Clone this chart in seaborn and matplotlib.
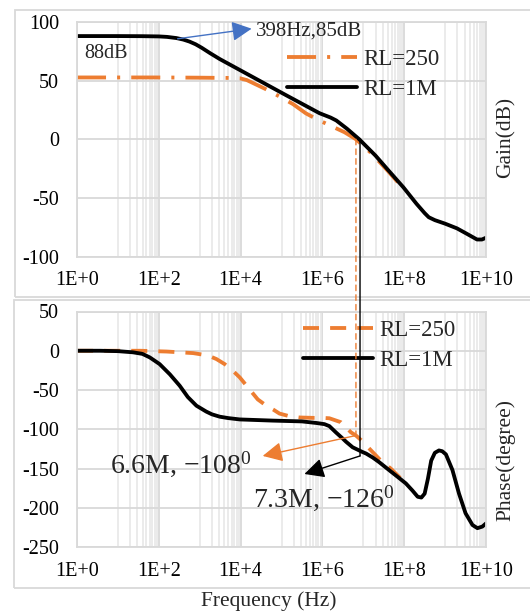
import numpy as np
import pandas as pd
import matplotlib
matplotlib.use("Agg")
import matplotlib.pyplot as plt
import seaborn as sns
from matplotlib.patches import Rectangle, ConnectionPatch
from matplotlib.ticker import FixedLocator, NullFormatter

# ---------------- data (log10 of frequency in Hz, value) ----------------
gain_1m_logf = [0, 1, 1.6, 2.0, 2.2, 2.43, 2.6, 2.75, 2.9, 3.05, 3.25, 3.49, 4.3, 5.11,
                5.93, 6.2, 6.34, 6.6, 6.9, 7.3, 7.6, 7.98, 8.3, 8.5, 8.6, 8.75, 9.0,
                9.29, 9.55, 9.78, 9.9, 10.0]
gain_1m = [88, 88, 87.9, 87.7, 87.3, 86.3, 85, 83.3, 81, 78, 73.5, 68.4, 53, 37.6,
           22.2, 18.5, 16, 9, 0, -14, -26, -41, -55, -63, -66.5, -69, -72,
           -76, -81, -85.5, -85.5, -84]

gain_250_logf = [0, 1, 2, 3, 3.7, 3.98, 4.15, 4.3, 4.6, 4.87, 5.28, 5.6, 5.9, 6.17,
                 6.54, 6.82, 7.2, 7.6, 7.98]
gain_250 = [52.7, 52.7, 52.7, 52.5, 52.3, 52, 50.5, 48, 43, 38, 30, 22, 16.5, 12,
            6, 0, -12, -27, -42]

phase_1m_logf = [0, 0.56, 1.0, 1.37, 1.6, 1.78, 2.02, 2.27, 2.51, 2.71, 2.92, 3.16,
                 3.3, 3.49, 3.7, 3.98, 4.79, 5.5, 5.85, 6.05, 6.17, 6.33, 6.5, 6.58,
                 6.74, 6.82, 6.98, 7.07, 7.23, 7.39, 7.63, 7.8, 8.04, 8.2, 8.33, 8.42,
                 8.5, 8.58, 8.66, 8.75, 8.85, 8.93, 9.02, 9.18, 9.34, 9.5, 9.67, 9.79,
                 9.91, 10.0]
phase_1m = [0, 0, -0.5, -2, -4, -8.5, -17, -30, -44.5, -59, -70, -77.5,
            -81, -84, -85.8, -87.5, -89, -90, -92, -93.5, -96, -104, -112, -116,
            -123, -125, -129, -131, -136, -142, -152, -159, -169, -178, -186, -187,
            -182, -163, -140, -130, -127, -128, -132, -152, -182, -207, -222, -226,
            -224, -220]

phase_250_logf = [0, 1.0, 1.54, 2.19, 2.84, 3.2, 3.41, 3.61, 3.8, 3.98, 4.2, 4.42,
                  4.63, 4.8, 4.95, 5.2, 5.44, 5.76, 6.0, 6.17, 6.45, 6.7, 6.82, 6.95,
                  7.19, 7.43, 7.67, 7.92, 8.02]
phase_250 = [0, 0, 0, -1, -3, -6, -10.6, -17, -25, -34, -48, -62,
             -70, -75, -80, -83.5, -85, -85.5, -85.5, -86, -91, -104, -108, -114,
             -127, -140, -150, -163, -168]

xtick_exp = [0, 2, 4, 6, 8, 10]
xtick_labels = ["1E+0", "1E+2", "1E+4", "1E+6", "1E+8", "1E+10"]
gain_ticks = [-100, -50, 0, 50, 100]
phase_ticks = [-250, -200, -150, -100, -50, 0, 50]
series_labels = ["RL=250", "RL=1M"]

# annotation anchor values
f_cross_250 = 6.82     # log10 Hz  (6.6M)
f_cross_1m = 6.92      # log10 Hz
phase_mark_250 = -108
phase_mark_1m = -134
blue_from, blue_to = (2.46, 85.7), (4.27, 94.3)
orange_tip = (4.54, -134)
black_tip = (5.56, -157)

ORANGE = "#ED7D31"
BLUE = "#4472C4"
GRID = "#d9d9d9"
MINOR = "#e9e9e9"

sns.set_theme(style="white")
plt.rcParams['font.family'] = ['Liberation Serif', 'DejaVu Serif']
plt.rcParams['mathtext.fontset'] = 'custom'
plt.rcParams['mathtext.rm'] = 'Liberation Serif'
plt.rcParams['mathtext.it'] = 'Liberation Serif:italic'

W, H = 530, 613
fig = plt.figure(figsize=(W / 100, H / 100), dpi=100)
def fx(px): return px / W
def fy(py): return 1 - py / H

# outer boxes (Excel chart area borders)
fig.add_artist(Rectangle((fx(15), fy(297)), fx(530) - fx(15) + 0.05, fy(10) - fy(297),
                         transform=fig.transFigure, fill=False, ec=GRID, lw=1.3))
fig.add_artist(Rectangle((fx(14), fy(588)), fx(530) - fx(14) + 0.05, fy(300) - fy(588),
                         transform=fig.transFigure, fill=False, ec=GRID, lw=1.3))

X0, X1 = 77, 486
ax1 = fig.add_axes([fx(X0), fy(256.5), fx(X1) - fx(X0), fy(22) - fy(256.5)])
ax2 = fig.add_axes([fx(X0), fy(547), fx(X1) - fx(X0), fy(311.5) - fy(547)])

minor_pos = [k * 10.0 ** (2 * n + 1) for n in range(5) for k in range(1, 10)]

for ax, yt, ylim in ((ax1, gain_ticks, (-100, 100)), (ax2, phase_ticks, (-250, 50))):
    ax.set_xscale('log')
    ax.set_xlim(1, 1e10)
    ax.set_ylim(*ylim)
    ax.xaxis.set_major_locator(FixedLocator([10.0 ** e for e in xtick_exp]))
    ax.set_xticklabels(xtick_labels)
    ax.xaxis.set_minor_locator(FixedLocator(minor_pos))
    ax.xaxis.set_minor_formatter(NullFormatter())
    ax.set_yticks(yt)
    ax.set_yticklabels([str(v) for v in yt])
    ax.grid(True, which='minor', axis='x', color=MINOR, lw=1.3, zorder=0)
    ax.grid(True, which='major', axis='both', color=GRID, lw=1.3, zorder=0)
    ax.tick_params(axis='both', which='both', length=0, labelsize=14.5, colors='black')
    ax.tick_params(axis='x', pad=10.5)
    ax.tick_params(axis='y', pad=13)
    for s in ax.spines.values():
        s.set_color(GRID)
        s.set_linewidth(1.3)
    ax.set_axisbelow(True)

LW = 2.75
dashdot = (7.6, 2.9, 0.8, 2.9)
dashed = (4.2, 2.9)

def draw(ax, logf, vals, color, dashes, label):
    df = pd.DataFrame({"freq": 10.0 ** np.asarray(logf), "val": vals})
    sns.lineplot(data=df, x="freq", y="val", ax=ax, color=color, lw=LW,
                 estimator=None, sort=False, label=label)
    line = ax.get_lines()[-1]
    if dashes is not None:
        line.set_dashes(dashes)
    line.set_solid_capstyle('round')
    line.set_solid_joinstyle('round')
    return line

draw(ax1, gain_250_logf, gain_250, ORANGE, dashdot, series_labels[0])
draw(ax1, gain_1m_logf, gain_1m, "black", None, series_labels[1])
draw(ax2, phase_250_logf, phase_250, ORANGE, dashed, series_labels[0])
draw(ax2, phase_1m_logf, phase_1m, "black", None, series_labels[1])

for ax in (ax1, ax2):
    ax.set_xlabel("")
    ax.set_ylabel("")

leg_kw = dict(frameon=False, fontsize=16.5, handlelength=3.05, handletextpad=0.28,
              labelspacing=0.38, borderpad=0, borderaxespad=0, loc='center left',
              bbox_transform=fig.transFigure)
ax1.legend(bbox_to_anchor=(fx(287), fy(74.5)), **leg_kw)
ax2.legend(bbox_to_anchor=(fx(303), fy(345.5)), **leg_kw)

# marker lines across both panels
for lf, pm, col, ls in ((f_cross_250, phase_mark_250, ORANGE, (0, (4, 3))),
                        (f_cross_1m, phase_mark_1m, "black", '-')):
    con = ConnectionPatch(xyA=(10 ** lf, 0), coordsA=ax1.transData,
                          xyB=(10 ** lf, pm), coordsB=ax2.transData,
                          color=col, lw=1.0, linestyle=ls)
    fig.add_artist(con)

# arrows
ah = '-|>,head_length=0.6,head_width=0.3'
ax1.annotate('', xy=(10 ** blue_to[0], blue_to[1]), xytext=(10 ** blue_from[0], blue_from[1]),
             arrowprops=dict(arrowstyle=ah, color=BLUE, lw=1.0, mutation_scale=20,
                             shrinkA=0, shrinkB=0))
ax2.annotate('', xy=(10 ** orange_tip[0], orange_tip[1]),
             xytext=(10 ** f_cross_250, phase_mark_250),
             arrowprops=dict(arrowstyle=ah, color=ORANGE, lw=1.0, mutation_scale=20,
                             shrinkA=0, shrinkB=0))
ax2.annotate('', xy=(10 ** black_tip[0], black_tip[1]),
             xytext=(10 ** f_cross_1m, phase_mark_1m),
             arrowprops=dict(arrowstyle=ah, color="black", lw=1.0, mutation_scale=20,
                             shrinkA=0, shrinkB=0))

# texts
fig.text(fx(84), fy(54), "88dB", fontsize=14.5, ha='left', va='center')
fig.text(fx(256), fy(31), "398Hz,85dB", fontsize=15, ha='left', va='center')
fig.text(fx(110), fy(464), "6.6M, \u2212108$^{0}$", fontsize=20, ha='left', va='center')
fig.text(fx(253), fy(498), "7.3M, \u2212126$^{0}$", fontsize=20, ha='left', va='center')
fig.text(fx(506), fy(137), "Gain(dB)", fontsize=15.5, rotation=90, ha='center', va='center')
fig.text(fx(506), fy(460), "Phase(degree)", fontsize=15.5, rotation=90, ha='center', va='center')
fig.text(fx(269), fy(601), "Frequency (Hz)", fontsize=15.5, ha='center', va='center')

fig.savefig("out.png", dpi=100)
